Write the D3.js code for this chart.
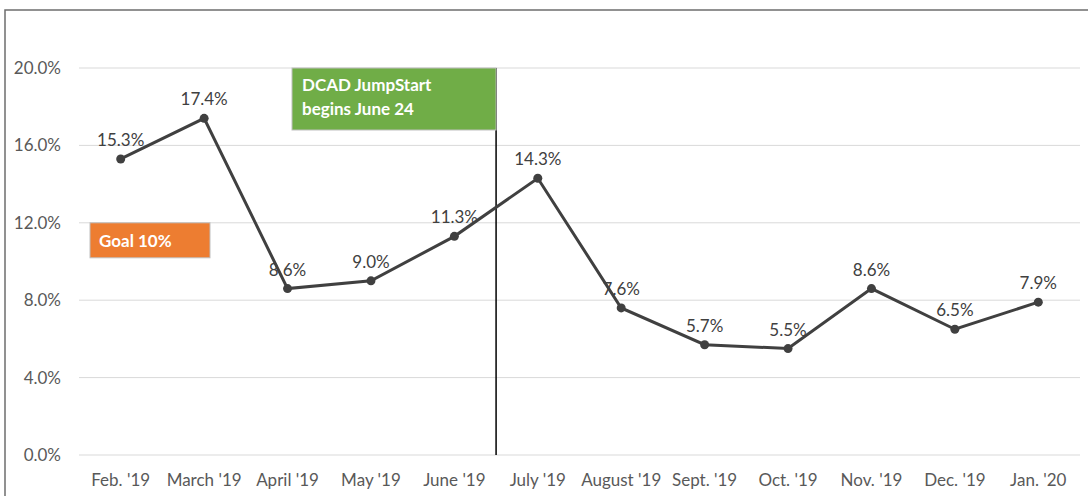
<!DOCTYPE html>
<html>
<head>
<meta charset="utf-8">
<script src="https://cdn.jsdelivr.net/npm/d3@7"></script>
<style>
  body { margin: 0; background: #fff; }
  text { font-family: Lato, "Open Sans", sans-serif; }
</style>
</head>
<body>
<svg width="1088" height="496"></svg>
<script>
  // chart data
  const months = ["Feb. '19", "March '19", "April '19", "May '19", "June '19", "July '19",
    "August '19", "Sept. '19", "Oct. '19", "Nov. '19", "Dec. '19", "Jan. '20"];
  const rates = [15.3, 17.4, 8.6, 9.0, 11.3, 14.3, 7.6, 5.7, 5.5, 8.6, 6.5, 7.9];
  const yTicks = [0, 4, 8, 12, 16, 20];
  const markerAfter = "June '19";
  const goalText = "Goal 10%";
  const noteLines = ["DCAD JumpStart", "begins June 24"];

  const svg = d3.select("svg");
  const plotLeft = 79, plotRight = 1080, plotTop = 68, plotBottom = 455;

  const x = d3.scaleBand().domain(months).range([plotLeft, plotRight]);
  const y = d3.scaleLinear().domain([0, 20]).range([plotBottom, plotTop]);

  // frame (top + left edges only visible)
  svg.append("path")
    .attr("d", "M5,496 V10 H1088")
    .attr("fill", "none")
    .attr("stroke", "#6e6e6e")
    .attr("stroke-width", 1.5);

  // gridlines
  svg.append("g")
    .selectAll("line")
    .data(yTicks)
    .join("line")
    .attr("x1", plotLeft).attr("x2", plotRight)
    .attr("y1", d => y(d)).attr("y2", d => y(d))
    .attr("stroke", "#d9d9d9")
    .attr("stroke-width", 1);

  // y labels
  svg.append("g")
    .selectAll("text")
    .data(yTicks)
    .join("text")
    .attr("x", 61)
    .attr("y", d => y(d))
    .attr("dy", "0.35em")
    .attr("text-anchor", "end")
    .attr("font-size", "17px")
    .attr("fill", "#595959")
    .text(d => d.toFixed(1) + "%");

  // x labels
  svg.append("g")
    .selectAll("text")
    .data(months)
    .join("text")
    .attr("x", d => x(d) + x.bandwidth() / 2)
    .attr("y", 486)
    .attr("text-anchor", "middle")
    .attr("font-size", "17px")
    .attr("fill", "#595959")
    .text(d => d);

  // jumpstart marker line
  const markX = x(markerAfter) + x.bandwidth();
  svg.append("line")
    .attr("x1", markX).attr("x2", markX)
    .attr("y1", y(20)).attr("y2", y(0))
    .attr("stroke", "#000")
    .attr("stroke-width", 1.5);

  // green note box
  const noteBox = svg.append("g");
  noteBox.append("rect")
    .attr("x", 292).attr("y", y(20))
    .attr("width", markX - 292).attr("height", 62)
    .attr("fill", "#70ad47")
    .attr("stroke", "#bfbfbf");
  noteBox.selectAll("text")
    .data(noteLines)
    .join("text")
    .attr("x", 302)
    .attr("y", (d, i) => y(20) + 23 + i * 24)
    .attr("font-size", "17px")
    .attr("font-weight", "bold")
    .attr("fill", "#fff")
    .text(d => d);

  // orange goal box
  svg.append("rect")
    .attr("x", 90).attr("y", y(12))
    .attr("width", 120).attr("height", 35)
    .attr("fill", "#ed7d31")
    .attr("stroke", "#bfbfbf");
  svg.append("text")
    .attr("x", 99).attr("y", y(12) + 24)
    .attr("font-size", "17px")
    .attr("font-weight", "bold")
    .attr("fill", "#fff")
    .text(goalText);

  // line + points
  const cx = (d, i) => x(months[i]) + x.bandwidth() / 2;
  const line = d3.line()
    .x(cx)
    .y(d => y(d));

  svg.append("path")
    .datum(rates)
    .attr("d", line)
    .attr("fill", "none")
    .attr("stroke", "#404040")
    .attr("stroke-width", 3);

  svg.append("g")
    .selectAll("circle")
    .data(rates)
    .join("circle")
    .attr("cx", cx)
    .attr("cy", d => y(d))
    .attr("r", 4.5)
    .attr("fill", "#404040");

  // data labels
  svg.append("g")
    .selectAll("text")
    .data(rates)
    .join("text")
    .attr("x", cx)
    .attr("y", d => y(d) - 13)
    .attr("text-anchor", "middle")
    .attr("font-size", "17px")
    .attr("fill", "#404040")
    .text(d => d.toFixed(1) + "%");
</script>
</body>
</html>
